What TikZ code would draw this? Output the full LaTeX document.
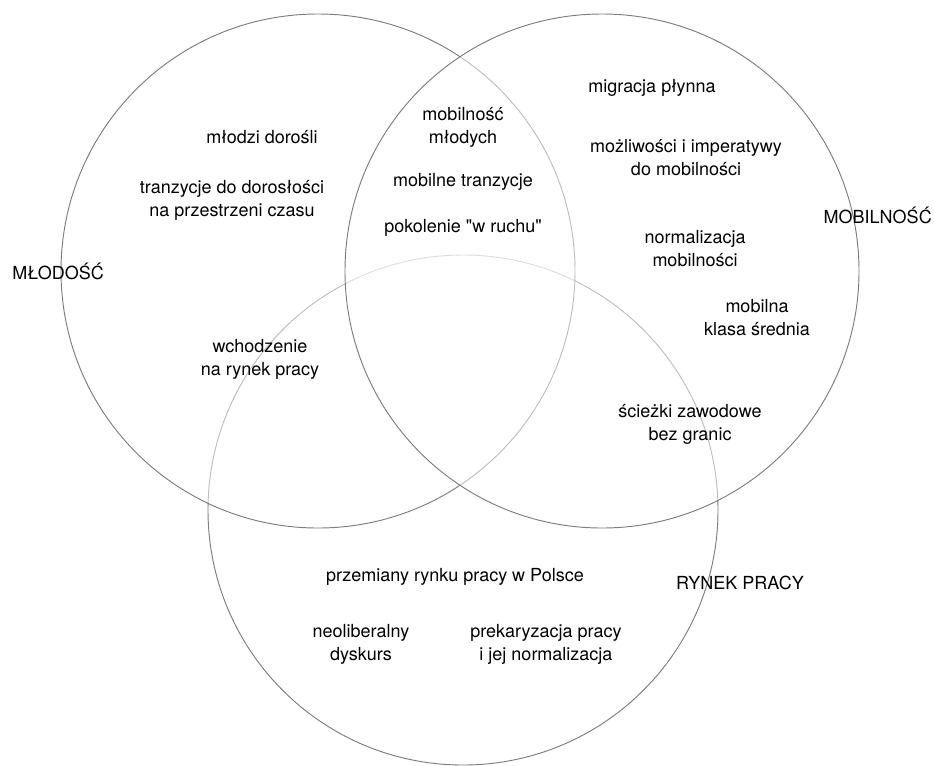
\documentclass[tikz,border=0pt]{standalone}
\usepackage{fontspec}
\setmainfont{TeX Gyre Heros}[Ligatures=TeXOff]
\begin{document}
\begin{tikzpicture}[x=0.75pt,y=-0.75pt,
  ring/.style={draw={rgb,255:red,125;green,125;blue,125},line width=0.7pt},
  veil/.style={ring,fill=white,fill opacity=0.5},
  lbl/.style={align=center,inner sep=0pt,font=\fontsize{13.5}{17.25}\selectfont,text=black}]
\useasboundingbox (0,0) rectangle (934,765);
\path[fill=white] (0,0) rectangle (934,765);
% circles
\draw[ring] (463,510) circle [radius=191.25pt];
\draw[veil] (318,271) circle [radius=192.75pt];
\draw[veil] (602,271) circle [radius=192.75pt];
% labels
\node[lbl,anchor=west] (mlo) at (12,271) {MŁODOŚĆ};
\node[lbl,anchor=east] (mob) at (932,215) {MOBILNOŚĆ};
\node[lbl] (ryn) at (740,583) {RYNEK PRACY};
\node[lbl] (t1) at (262,137) {młodzi dorośli};
\node[lbl] (t2) at (232,200) {tranzycje do dorosłości\\na przestrzeni czasu};
\node[lbl] (t3) at (463,127) {mobilność\\młodych};
\node[lbl] (t4) at (463,182) {mobilne tranzycje};
\node[lbl] (t5) at (463,228) {pokolenie "w ruchu"};
\node[lbl] (t6) at (652,88) {migracja płynna};
\node[lbl] (t7) at (686,158) {możliwości i imperatywy\\do mobilności};
\node[lbl] (t8) at (695,249) {normalizacja\\mobilności};
\node[lbl] (t9) at (757,318) {mobilna\\klasa średnia};
\node[lbl] (t10) at (260,359) {wchodzenie\\na rynek pracy};
\node[lbl] (t11) at (690,424) {ścieżki zawodowe\\bez granic};
\node[lbl] (t12) at (455,577) {przemiany rynku pracy w Polsce};
\node[lbl] (t13) at (361,644) {neoliberalny\\dyskurs};
\node[lbl] (t14) at (546,644) {prekaryzacja pracy\\i jej normalizacja};
\end{tikzpicture}
\end{document}
